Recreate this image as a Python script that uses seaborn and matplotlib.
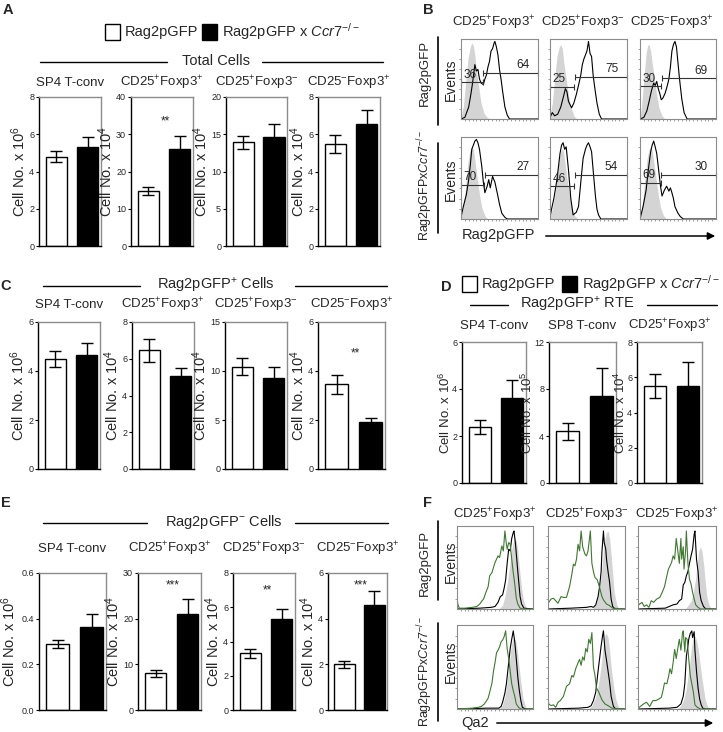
import matplotlib
matplotlib.use("Agg")
import numpy as np
import pandas as pd
import matplotlib.pyplot as plt
import seaborn as sns
from matplotlib.patches import Rectangle, FancyArrowPatch
from matplotlib.lines import Line2D

# === data ===
groups = ["Rag2pGFP", "Rag2pGFP x Ccr7-/-"]
subsets = ["SP4 T-conv", "CD25$^{+}$Foxp3$^{+}$", "CD25$^{+}$Foxp3$^{-}$", "CD25$^{-}$Foxp3$^{+}$"]
rte_subsets = ["SP4 T-conv", "SP8 T-conv", "CD25$^{+}$Foxp3$^{+}$"]
hist_cols = ["CD25$^{+}$Foxp3$^{+}$", "CD25$^{+}$Foxp3$^{-}$", "CD25$^{-}$Foxp3$^{+}$"]

# A: total cells
A_wt = [4.8, 14.7, 13.9, 5.5]
A_wt_err = [0.3, 1.1, 0.9, 0.48]
A_ko = [5.3, 26.0, 14.6, 6.55]
A_ko_err = [0.57, 3.6, 1.8, 0.75]
A_ticks = [[0, 2, 4, 6, 8], [0, 10, 20, 30, 40], [0, 5, 10, 15, 20], [0, 2, 4, 6, 8]]
A_exp = [6, 4, 4, 4]
A_stars = ["", "**", "", ""]
A_star_y = [0, 33.5, 0, 0]

# C: Rag2pGFP+ cells
C_wt = [4.5, 6.45, 10.45, 3.45]
C_wt_err = [0.32, 0.6, 0.85, 0.37]
C_ko = [4.65, 5.05, 9.25, 1.9]
C_ko_err = [0.5, 0.45, 1.15, 0.2]
C_ticks = [[0, 2, 4, 6], [0, 2, 4, 6, 8], [0, 5, 10, 15], [0, 2, 4, 6]]
C_exp = [6, 4, 4, 4]
C_stars = ["", "", "", "**"]
C_star_y = [0, 0, 0, 4.7]

# D: Rag2pGFP+ RTE
D_wt = [2.4, 4.4, 5.5]
D_wt_err = [0.3, 0.7, 0.7]
D_ko = [3.6, 7.4, 5.5]
D_ko_err = [0.77, 2.35, 1.35]
D_ticks = [[0, 2, 4, 6], [0, 4, 8, 12], [0, 2, 4, 6, 8]]
D_exp = [6, 5, 4]

# E: Rag2pGFP- cells
E_wt = [0.29, 8.0, 3.3, 2.0]
E_wt_err = [0.018, 0.7, 0.25, 0.16]
E_ko = [0.365, 21.0, 5.3, 4.6]
E_ko_err = [0.055, 3.2, 0.6, 0.6]
E_ticks = [[0.0, 0.2, 0.4, 0.6], [0, 10, 20, 30], [0, 2, 4, 6, 8], [0, 2, 4, 6]]
E_exp = [6, 4, 4, 4]
E_stars = ["", "***", "**", "***"]
E_star_y = [0, 27.3, 7.0, 5.45]

# B: Rag2pGFP histograms (row 1 Rag2pGFP, row 2 Rag2pGFPxCcr7-/-)
B_gray_x = [
    [0, .03, .06, .09, .12, .14, .16, .18, .2, .23, .26, .3, .34, .38],
    [0, .03, .06, .09, .12, .14, .16, .18, .21, .24, .27, .31, .35],
    [0, .02, .05, .08, .1, .12, .14, .16, .19, .22, .25, .29, .33],
    [0, .03, .06, .09, .12, .14, .16, .18, .21, .24, .27, .31, .35],
    [0, .03, .07, .1, .13, .15, .17, .19, .22, .25, .28, .32, .36],
    [0, .03, .06, .09, .12, .14, .16, .18, .21, .24, .27, .31, .35],
]
B_gray_y = [
    [.03, .15, .45, .75, .9, .95, .92, .8, .6, .4, .2, .07, .02, 0],
    [.05, .2, .5, .78, .9, .93, .88, .7, .5, .3, .15, .04, 0],
    [.03, .15, .5, .82, .92, .93, .85, .7, .5, .3, .14, .04, 0],
    [.03, .15, .4, .7, .85, .88, .85, .72, .5, .3, .14, .04, 0],
    [.03, .12, .35, .6, .78, .85, .84, .72, .5, .3, .14, .04, 0],
    [.03, .15, .45, .72, .85, .88, .84, .7, .5, .3, .14, .04, 0],
]
B_black_x = [
    [0, .05, .1, .13, .15, .18, .2, .22, .24, .26, .29, .31, .33, .35, .37, .39, .41, .43, .44, .46, .48, .5, .52, .54, .57, .6, .63, 1],
    [0, .03, .06, .1, .14, .18, .2, .22, .24, .26, .28, .31, .34, .37, .4, .42, .44, .46, .48, .5, .52, .54, .56, .58, .61, .64, .67, 1],
    [0, .05, .09, .12, .15, .18, .2, .22, .24, .26, .28, .3, .33, .36, .38, .4, .42, .44, .46, .48, .5, .52, .55, .58, .62, 1],
    [0, .03, .07, .1, .12, .14, .16, .18, .2, .22, .24, .27, .29, .31, .34, .36, .38, .41, .44, .47, .5, .53, .57, .6, 1],
    [0, .02, .05, .09, .13, .15, .17, .19, .21, .24, .27, .3, .34, .37, .4, .43, .46, .48, .5, .52, .54, .56, .59, .61, .63, .66, 1],
    [0, .04, .08, .11, .14, .16, .18, .2, .22, .24, .27, .29, .32, .35, .38, .4, .42, .44, .46, .5, .53, .57, 1],
]
B_black_y = [
    [0, .02, .15, .32, .45, .68, .6, .62, .5, .45, .43, .5, .55, .65, .72, .85, .88, .95, .97, .9, .8, .62, .5, .35, .15, .05, 0, 0],
    [.02, .08, .04, .06, .15, .3, .38, .34, .22, .18, .14, .2, .3, .42, .55, .68, .75, .8, .85, .97, .82, .78, .55, .4, .2, .06, 0, 0],
    [0, .02, .1, .22, .35, .45, .42, .47, .38, .32, .24, .26, .32, .42, .5, .65, .85, .93, .97, .9, .7, .5, .25, .08, 0, 0],
    [.02, .15, .3, .48, .65, .85, .9, .95, .97, .93, .85, .64, .45, .32, .4, .48, .38, .52, .45, .32, .18, .07, .02, 0, 0],
    [.02, .12, .25, .48, .8, .9, .93, .85, .88, .6, .25, .05, .08, .15, .45, .74, .85, .9, .93, .88, .82, .6, .28, .12, .05, 0, 0],
    [0, .15, .35, .6, .82, .9, .95, .88, .8, .64, .4, .28, .35, .4, .34, .38, .32, .25, .15, .07, .03, 0, 0],
]
B_gate_split = [0.28, 0.31, 0.28, 0.30, 0.31, 0.27]
B_gate_low = [0.46, 0.40, 0.41, 0.42, 0.40, 0.44]
B_gate_high = [0.58, 0.53, 0.51, 0.54, 0.54, 0.54]
B_pct_low = ["36", "25", "30", "70", "46", "69"]
B_pct_high = ["64", "75", "69", "27", "54", "30"]

# F: Qa2 histograms
F_gray_x = [
    [.55, .6, .63, .66, .69, .72, .74, .76, .78, .8, .82, .85, .88, .92],
    [.58, .62, .66, .69, .72, .74, .76, .78, .8, .82, .84, .86, .89, .92],
    [.6, .64, .68, .71, .74, .76, .78, .8, .82, .84, .86, .88, .91, .94],
    [.55, .6, .63, .66, .69, .71, .73, .75, .77, .79, .81, .84, .87, .9, .93],
    [.52, .57, .61, .64, .67, .7, .72, .74, .76, .78, .8, .82, .85, .88, .91, .94],
    [.5, .55, .59, .62, .65, .68, .7, .72, .74, .76, .78, .8, .83, .86, .89, .92],
]
F_gray_y = [
    [0, .05, .15, .3, .5, .72, .8, .86, .82, .7, .5, .25, .08, 0],
    [0, .06, .2, .4, .7, .85, .92, .94, .85, .65, .42, .2, .06, 0],
    [0, .04, .1, .2, .38, .55, .7, .75, .7, .55, .35, .16, .05, 0],
    [0, .05, .15, .32, .55, .72, .82, .85, .82, .72, .55, .32, .12, .03, 0],
    [0, .04, .12, .22, .38, .6, .78, .88, .9, .85, .7, .5, .28, .12, .03, 0],
    [0, .04, .12, .25, .45, .68, .82, .88, .85, .78, .66, .5, .3, .12, .03, 0],
]
F_black_x = [
    [0, .3, .45, .5, .54, .57, .6, .62, .64, .66, .68, .7, .72, .74, .75, .77, .79, .81, .83, .85, .88, 1],
    [0, .3, .5, .56, .59, .62, .65, .67, .69, .7, .72, .73, .75, .76, .78, .8, .82, .84, .87, 1],
    [0, .35, .45, .5, .53, .56, .58, .6, .62, .64, .66, .68, .7, .72, .73, .75, .77, .79, .81, .84, .87, 1],
    [0, .4, .55, .58, .6, .63, .65, .68, .7, .72, .74, .76, .78, .8, .82, .84, .86, .9, 1],
    [0, .4, .52, .56, .59, .62, .65, .67, .69, .71, .72, .74, .76, .78, .8, .82, .85, .88, 1],
    [0, .4, .5, .55, .58, .6, .62, .64, .65, .67, .69, .7, .72, .73, .75, .77, .79, .81, .83, .86, 1],
]
F_black_y = [
    [0, .01, .02, .03, .08, .15, .17, .25, .35, .55, .72, .7, .85, .92, .94, .78, .56, .35, .15, .06, .01, 0],
    [0, .01, .02, .03, .02, .05, .15, .27, .45, .68, .94, .8, .72, .6, .45, .32, .12, .03, 0, 0],
    [0, .01, .05, .06, .1, .12, .29, .32, .4, .45, .55, .64, .72, .9, .94, .6, .45, .2, .1, .03, 0, 0],
    [0, .01, .01, .03, .08, .19, .3, .55, .72, .83, .93, .8, .6, .38, .22, .1, .02, 0, 0],
    [0, .01, .02, .04, .1, .2, .45, .6, .75, .88, .93, .7, .58, .45, .32, .15, .03, 0, 0],
    [0, .01, .02, .06, .15, .3, .63, .75, .83, .9, .93, .85, .92, .7, .45, .25, .12, .05, .01, 0, 0],
]
F_green_x = [
    [0, .01, .03, .1, .2, .26, .3, .33, .35, .38, .41, .43, .46, .48, .5, .52, .54, .56, .59, .61, .63, .65, .66, .68, .7, .72, .74, .76, .78, .8, .83, .87, 1],
    [0, .01, .04, .07, .1, .13, .17, .2, .24, .28, .31, .33, .35, .37, .39, .41, .43, .45, .48, .5, .52, .55, .57, .59, .61, .64, .67, .7, .72, .76, .8, .84, 1],
    [0, .01, .05, .08, .11, .14, .17, .2, .24, .28, .31, .34, .37, .39, .41, .43, .45, .47, .49, .51, .53, .55, .56, .58, .59, .61, .62, .64, .66, .68, .7, .72, .74, .77, .8, 1],
    [0, .2, .28, .32, .36, .39, .41, .43, .46, .48, .5, .52, .54, .56, .58, .6, .62, .64, .66, .68, .7, .72, .74, .76, .78, .81, .84, 1],
    [0, .01, .04, .07, .1, .13, .16, .2, .24, .28, .31, .33, .36, .39, .41, .43, .45, .47, .49, .51, .53, .55, .57, .59, .61, .63, .66, .7, .74, .78, .83, 1],
    [0, .03, .07, .11, .15, .19, .23, .27, .3, .32, .34, .37, .39, .41, .43, .45, .47, .49, .51, .53, .55, .57, .58, .6, .61, .63, .65, .67, .69, .71, .73, .76, .8, 1],
]
F_green_y = [
    [.14, .06, .01, .01, .02, .03, .06, .1, .12, .2, .27, .4, .44, .5, .56, .6, .64, .62, .76, .7, .94, .78, .72, .8, .78, .6, .44, .3, .13, .06, .01, 0, 0],
    [.11, .08, .12, .13, .1, .07, .15, .14, .14, .27, .42, .54, .52, .6, .78, .7, .94, .75, .66, .64, .7, .94, .55, .45, .38, .35, .26, .15, .11, .06, .04, .01, 0],
    [.11, .05, .08, .03, .05, .02, .1, .08, .12, .14, .2, .27, .4, .48, .52, .56, .64, .6, .85, .7, .55, .85, .6, .75, .48, .7, .94, .55, .36, .3, .2, .12, .05, .02, 0, 0],
    [0, .01, .02, .03, .06, .1, .13, .2, .31, .45, .55, .67, .7, .74, .8, .82, .86, .93, .72, .6, .45, .3, .22, .15, .06, .02, 0, 0],
    [.13, .06, .04, .05, .02, .08, .1, .15, .27, .3, .4, .38, .48, .55, .59, .52, .62, .58, .72, .68, .83, .78, .91, .5, .4, .25, .2, .11, .06, .04, .01, 0],
    [.01, .03, .06, .08, .03, .1, .1, .12, .14, .22, .31, .3, .38, .48, .42, .55, .71, .6, .72, .83, .7, .9, .93, .68, .85, .83, .6, .4, .3, .2, .05, .02, 0, 0],
]

# === layout helpers (pixel coordinates of a 723x732 figure) ===
W, H = 723, 732
sns.set_style("white")
plt.rcParams["font.family"] = ["Liberation Sans", "DejaVu Sans"]
plt.rcParams["mathtext.fontset"] = "custom"
plt.rcParams["mathtext.rm"] = "Liberation Sans"
plt.rcParams["mathtext.it"] = "Liberation Sans:italic"
plt.rcParams["mathtext.bf"] = "Liberation Sans:bold"
NARROW = ["Liberation Sans Narrow", "Liberation Sans"]
GREEN = "#3d7a2f"
EDGE = "#8c8c8c"

fig = plt.figure(figsize=(W / 100, H / 100), dpi=100)


def fx(x):
    return x / W


def fy(y):
    return 1 - y / H


def add_ax(x0, y0, x1, y1):
    return fig.add_axes([fx(x0), fy(y1), (x1 - x0) / W, (y1 - y0) / H])


def text(x, y, s, **kw):
    kw.setdefault("ha", "center")
    kw.setdefault("va", "center")
    fig.text(fx(x), fy(y), s, **kw)


def hline(x0, x1, y, lw=1.0):
    fig.add_artist(Line2D([fx(x0), fx(x1)], [fy(y), fy(y)], color="black", lw=lw))


def vline(x, y0, y1, lw=1.2):
    fig.add_artist(Line2D([fx(x), fx(x)], [fy(y0), fy(y1)], color="black", lw=lw))


def arrow(x0, x1, y):
    fig.add_artist(FancyArrowPatch((fx(x0), fy(y)), (fx(x1), fy(y)), transform=fig.transFigure,
                                   arrowstyle="-|>", mutation_scale=11, color="black", lw=1.1))


def legend(x, y, gap):
    fig.add_artist(Rectangle((fx(x), fy(y + 8)), 15 / W, 16 / H, transform=fig.transFigure,
                             facecolor="white", edgecolor="black", lw=1))
    text(x + 20, y, "Rag2pGFP", ha="left", fontsize=10.5)
    fig.add_artist(Rectangle((fx(x + gap), fy(y + 8)), 15 / W, 16 / H, transform=fig.transFigure,
                             facecolor="black", edgecolor="black", lw=1))
    text(x + gap + 20, y, r"Rag2pGFP x $\mathit{Ccr7}^{-/-}$", ha="left", fontsize=10.5)


def header(s, x, y, left, right):
    text(x, y, s, fontsize=10.5)
    hline(left[0], left[1], y + 1)
    hline(right[0], right[1], y + 1)


def bar_chart(box, title, title_y, wt, wt_err, ko, ko_err, ticks, exponent, star="", star_y=0,
              label_gap=None, label_size=10.5):
    x0, x1, y0, y1 = box
    ax = add_ax(x0, y0, x1, y1)
    df = pd.DataFrame({"group": groups, "cells": [wt, ko]})
    sns.barplot(data=df, x="group", y="cells", hue="group", palette=["white", "black"], dodge=False,
                width=0.68, edgecolor="black", linewidth=1.0, errorbar=None, legend=False, ax=ax)
    ax.errorbar([0, 1], [wt, ko], yerr=[wt_err, ko_err], fmt="none", ecolor="black",
                elinewidth=1.0, capsize=4.5, capthick=1.0)
    ax.set_xlim(-0.55, 1.42)
    ax.set_ylim(0, ticks[-1])
    ax.set_xticks([])
    ax.set_xlabel("")
    ax.set_yticks(ticks)
    labels = [f"{t:.1f}" if isinstance(t, float) else str(t) for t in ticks]
    ax.set_yticklabels(labels, fontsize=6.5, family=NARROW)
    ax.tick_params(axis="y", left=True, length=2.5, width=0.8, pad=1, color="black")
    for side in ["left", "bottom"]:
        ax.spines[side].set_color("black")
        ax.spines[side].set_linewidth(1.0)
    for side in ["top", "right"]:
        ax.spines[side].set_color(EDGE)
        ax.spines[side].set_linewidth(1.0)
    ax.set_ylabel("Cell No. x 10$^{%d}$" % exponent, fontsize=label_size)
    if label_gap is None:
        label_gap = 6 + 5 * max(len(s) for s in labels)
    ax.yaxis.set_label_coords(-label_gap / (x1 - x0), 0.5)
    if star:
        ax.text(0.55, star_y, star, ha="center", va="center", fontsize=8.5)
    text((x0 + x1) / 2, title_y, title, fontsize=9.5)
    return ax


def hist_ax(box):
    x0, x1, y0, y1 = box
    ax = add_ax(x0, y0, x1, y1)
    ax.set_xlim(0, 1)
    ax.set_ylim(0, 1)
    ax.set_xticks([i / 20 for i in range(1, 20)])
    ax.set_yticks([i / 8 for i in range(1, 8)])
    ax.set_xticklabels([])
    ax.set_yticklabels([])
    ax.tick_params(left=True, bottom=True, length=1.5, width=0.5, color="#777777")
    for side in ax.spines:
        ax.spines[side].set_color(EDGE)
        ax.spines[side].set_linewidth(0.8)
    ax.set_xlabel("")
    ax.set_ylabel("")
    return ax


# === Panel A ===
text(8, 10, "A", fontsize=10.5, weight="bold")
legend(105, 32, 97)
header("Total Cells", 216, 61, (40, 167), (262, 383))
A_boxes = [(39, 101, 97, 246), (131, 193, 97, 246), (226, 287, 97, 246), (318, 380, 97, 246)]
for i in range(4):
    bar_chart(A_boxes[i], subsets[i], 83, A_wt[i], A_wt_err[i], A_ko[i], A_ko_err[i],
              A_ticks[i], A_exp[i], A_stars[i], A_star_y[i])

# === Panel C ===
text(6, 286, "C", fontsize=10.5, weight="bold")
header("Rag2pGFP$^{+}$ Cells", 216, 285, (43, 140), (295, 387))
C_boxes = [(38, 100, 322, 469), (132, 194, 322, 469), (225, 287, 322, 469), (318, 385, 322, 469)]
for i in range(4):
    bar_chart(C_boxes[i], subsets[i], 305, C_wt[i], C_wt_err[i], C_ko[i], C_ko_err[i],
              C_ticks[i], C_exp[i], C_stars[i], C_star_y[i])

# === Panel D ===
text(446, 287, "D", fontsize=10.5, weight="bold")
legend(462, 284, 100)
header("Rag2pGFP$^{+}$ RTE", 577, 304, (470, 508), (647, 717))
D_boxes = [(462, 526, 342, 483), (549, 616, 342, 483), (637, 702, 342, 483)]
D_gaps = [9, 14, 9]
for i in range(3):
    bar_chart(D_boxes[i], rte_subsets[i], 326, D_wt[i], D_wt_err[i], D_ko[i], D_ko_err[i],
              D_ticks[i], D_exp[i], label_gap=D_gaps[i], label_size=9.5)

# === Panel E ===
text(6, 503, "E", fontsize=10.5, weight="bold")
header("Rag2pGFP$^{-}$ Cells", 224, 522, (43, 147), (295, 388))
E_boxes = [(39, 106, 573, 710), (138, 201, 573, 710), (233, 295, 573, 710), (328, 387, 573, 710)]
for i in range(4):
    bar_chart(E_boxes[i], subsets[i], 549, E_wt[i], E_wt_err[i], E_ko[i], E_ko_err[i],
              E_ticks[i], E_exp[i], E_stars[i], E_star_y[i])

# === Panel B: Rag2pGFP histograms ===
text(428, 10, "B", fontsize=10.5, weight="bold")
B_cols = [(461, 538), (550, 627), (640, 716)]
B_rows = [(39, 119), (137, 219)]
for r in range(2):
    for c in range(3):
        k = r * 3 + c
        ax = hist_ax((B_cols[c][0], B_cols[c][1], B_rows[r][0], B_rows[r][1]))
        ax.fill_between(B_gray_x[k], B_gray_y[k], color="#d4d4d4", lw=0)
        sns.lineplot(x=B_black_x[k], y=B_black_y[k], color="black", lw=0.8, ax=ax)
        s = B_gate_split[k]
        ax.plot([0, s], [B_gate_low[k]] * 2, color="#333333", lw=0.8, marker="|", ms=4, mew=0.8, clip_on=False)
        ax.plot([s + 0.01, 1], [B_gate_high[k]] * 2, color="#333333", lw=0.8, marker="|", ms=4, mew=0.8, clip_on=False)
        ax.text(0.03, B_gate_low[k] + 0.02, B_pct_low[k], ha="left", va="bottom", fontsize=8.5)
        ax.text(0.8, B_gate_high[k] + 0.02, B_pct_high[k], ha="center", va="bottom", fontsize=8.5)
for c in range(3):
    text((B_cols[c][0] + B_cols[c][1]) / 2 - 6, 23, hist_cols[c], fontsize=9.5)
text(425, 73, "Rag2pGFP", rotation=90, fontsize=9.5)
vline(438, 37, 125)
text(451, 80, "Events", rotation=90, fontsize=10)
text(425, 186, r"Rag2pGFPx$\mathit{Ccr7}^{-/-}$", rotation=90, fontsize=9)
vline(438, 143, 233)
text(451, 180, "Events", rotation=90, fontsize=10)
text(462, 235, "Rag2pGFP", ha="left", fontsize=10.5)
arrow(543, 718, 236)

# === Panel F: Qa2 histograms ===
text(428, 503, "F", fontsize=10.5, weight="bold")
F_cols = [(457, 533), (548, 625), (638, 716)]
F_rows = [(526, 609), (625, 709)]
for r in range(2):
    for c in range(3):
        k = r * 3 + c
        ax = hist_ax((F_cols[c][0], F_cols[c][1], F_rows[r][0], F_rows[r][1]))
        ax.fill_between(F_gray_x[k], F_gray_y[k], color="#d4d4d4", lw=0)
        sns.lineplot(x=F_black_x[k], y=F_black_y[k], color="black", lw=0.8, ax=ax)
        sns.lineplot(x=F_green_x[k], y=F_green_y[k], color=GREEN, lw=0.8, ax=ax)
for c in range(3):
    text((F_cols[c][0] + F_cols[c][1]) / 2, 515, hist_cols[c], fontsize=9.5)
text(425, 563, "Rag2pGFP", rotation=90, fontsize=9.5)
vline(438, 521, 600)
text(451, 562, "Events", rotation=90, fontsize=10)
text(425, 672, r"Rag2pGFPx$\mathit{Ccr7}^{-/-}$", rotation=90, fontsize=9)
vline(438, 623, 721)
text(451, 662, "Events", rotation=90, fontsize=10)
text(461, 723, "Qa2", ha="left", fontsize=10.5)
arrow(494, 716, 723)

fig.savefig("out.png", dpi=100)
